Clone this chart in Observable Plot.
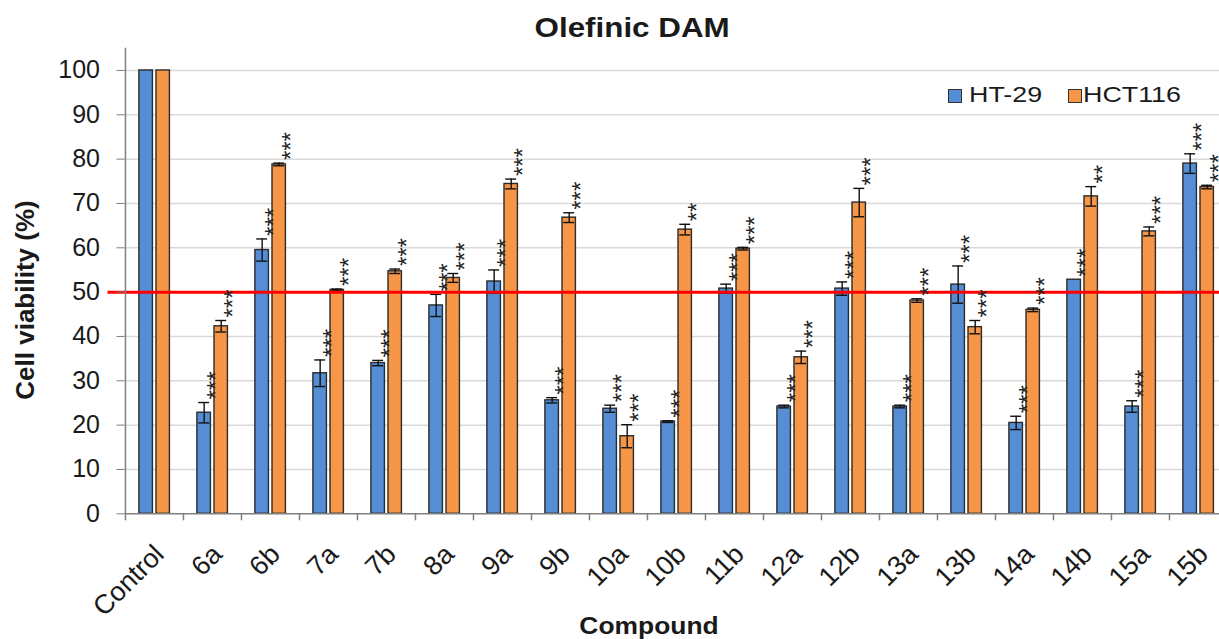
<!DOCTYPE html>
<html>
<head>
<meta charset="utf-8">
<script src="https://cdn.jsdelivr.net/npm/d3@7"></script>
<script src="https://cdn.jsdelivr.net/npm/@observablehq/plot@0.6"></script>
<style>
  html, body { margin: 0; padding: 0; background: #fff; overflow: hidden; }
  #wrap { position: relative; width: 1219px; height: 639px; overflow: hidden;
          font-family: "Liberation Sans", Arial, sans-serif; color: #1a1a1a; }
  #chart { position: absolute; left: 0; top: 0; }
  #chart svg { max-width: none !important; }
  .abs { position: absolute; white-space: nowrap; }
  .title { left: 0; width: 1264px; top: 13.6px; text-align: center; font-weight: bold; font-size: 28px; line-height: 28px; }
  .title span { display: inline-block; transform: scaleX(1.12); }
  .ytitle { left: 25px; top: 300px; font-weight: bold; font-size: 26px; line-height: 26px;
            transform: translate(-50%, -50%) rotate(-90deg); }
  .xtitle { left: 649px; top: 613.7px; font-weight: bold; font-size: 24px; line-height: 24px;
            transform: translateX(-50%) scaleX(1.1); }
  .legend { top: 83.7px; font-size: 22px; line-height: 22px; }
  .legend .sw { position: absolute; width: 12px; height: 12px; border: 1.3px solid #333; top: 5px; }
  .legend .lb { position: absolute; display: inline-block; transform-origin: left center; transform: scaleX(1.22); }
  g[aria-label="stars"] text { letter-spacing: 0.6px; }
</style>
</head>
<body>
<div id="wrap">
  <div id="chart"></div>
  <div class="abs title"><span>Olefinic DAM</span></div>
  <div class="abs ytitle">Cell viability (%)</div>
  <div class="abs xtitle">Compound</div>
  <div id="legend"></div>
</div>
<script>
// ---- data ----
const categories = ["Control","6a","6b","7a","7b","8a","9a","9b","10a","10b","11b","12a","12b","13a","13b","14a","14b","15a","15b"];
const seriesNames = ["HT-29", "HCT116"];
const ht29      = [100, 22.8, 59.5, 31.7, 34.0, 47.0, 52.4, 25.6, 23.7, 20.8, 50.8, 24.2, 50.8, 24.2, 51.7, 20.5, 52.8, 24.2, 79.0];
const ht29Err   = [0,   2.3,  2.5,  3.0,  0.6,  2.5,  2.6,  0.6,  0.8,  0.2,  1.0,  0.3,  1.5,  0.3,  4.2,  1.5,  0,    1.3,  2.2];
const ht29Sig   = ["", "***","***","***","***","***","***","***","***","***","***","***","***","***","***","***","***","***","***"];
const hct116    = [100, 42.3, 78.8, 50.5, 54.7, 53.2, 74.4, 66.8, 17.5, 64.1, 59.8, 35.3, 70.2, 48.1, 42.1, 46.0, 71.6, 63.7, 73.7];
const hct116Err = [0,   1.3,  0.3,  0.2,  0.5,  1.0,  1.1,  1.1,  2.6,  1.2,  0.3,  1.4,  3.2,  0.4,  1.5,  0.4,  2.2,  1.0,  0.4];
const hct116Sig = ["", "***","***","***","***","***","***","***","***","**","***","***","***","***","***","***","**","***","***"];
const yTicks = [0, 10, 20, 30, 40, 50, 60, 70, 80, 90, 100];
const threshold = [50];

// ---- styling / layout ----
const colors = ["#558ed5", "#f79646"];
const W = 1228, H = 639, ML = 124.5, MR = 0, MT = 47.8, MB = 125.7;
const step = (W - ML - MR) / categories.length;
const barPos = [[13.9, 27.5], [31.0, 44.5]];   // left/right offsets inside each category band (px)
const starSize = 24;

const rows = (vals, errs, sigs, s) => categories.map((c, i) => ({cat: c, v: vals[i], e: errs[i], sig: sigs[i], series: s}));
const series = [rows(ht29, ht29Err, ht29Sig, seriesNames[0]), rows(hct116, hct116Err, hct116Sig, seriesNames[1])];

const barMarks = [], errMarks = [], starMarks = [];
series.forEach((data, k) => {
  const [l, r] = barPos[k];
  const c = (l + r) / 2, cap = 5.5;
  const withErr = data.filter(d => d.e > 0);
  barMarks.push(Plot.barY(data, {x: "cat", y: "v", fill: colors[k], stroke: "#2b2b2b", strokeWidth: 1.4,
    insetLeft: l, insetRight: step - r}));
  errMarks.push(
    Plot.ruleX(withErr, {x: "cat", y1: d => d.v - d.e, y2: d => d.v + d.e, dx: c - step / 2, stroke: "#111", strokeWidth: 1.4}),
    Plot.tickY(withErr, {x: "cat", y: d => d.v + d.e, insetLeft: c - cap, insetRight: step - c - cap, stroke: "#111", strokeWidth: 1.4}),
    Plot.tickY(withErr, {x: "cat", y: d => d.v - d.e, insetLeft: c - cap, insetRight: step - c - cap, stroke: "#111", strokeWidth: 1.4})
  );
  starMarks.push(Plot.text(data.filter(d => d.sig), {x: "cat", y: d => d.v + d.e, text: "sig", rotate: -90,
    textAnchor: "start", lineAnchor: "middle", fontSize: starSize, fill: "#222",
    dx: c - step / 2 + 6 + 0.26 * starSize, dy: -3, ariaLabel: "stars"}));
});

const chart = Plot.plot({
  width: W, height: H,
  marginLeft: ML, marginRight: MR, marginTop: MT, marginBottom: MB,
  style: {fontFamily: '"Liberation Sans", Arial, sans-serif', background: "#fff", maxWidth: "none", color: "#1a1a1a"},
  x: {type: "band", domain: categories, paddingInner: 0, paddingOuter: 0},
  y: {domain: [0, 105]},
  marks: [
    Plot.ruleY(yTicks.filter(t => t > 0), {y: d => d, stroke: "#d9d9d9", strokeWidth: 1.5}),
    ...barMarks,
    ...errMarks,
    Plot.ruleY(threshold, {y: d => d, stroke: "#ff0000", strokeWidth: 3, insetLeft: -17}),
    ...starMarks,
    // y axis line (left boundary of first category) and x axis line
    Plot.ruleX(categories.slice(0, 1), {x: d => d, dx: -step / 2, stroke: "#7f7f7f", strokeWidth: 1.5}),
    Plot.ruleY([0], {y: d => d, stroke: "#7f7f7f", strokeWidth: 1.5}),
    // category boundary tick marks
    Plot.ruleX(categories, {x: d => d, dx: -step / 2, y1: 0, y2: 0, insetTop: 7, stroke: "#7f7f7f", strokeWidth: 1.5}),
    Plot.axisY({ticks: yTicks, tickSize: 8, tickPadding: 17, fontSize: 25, label: null, stroke: "#7f7f7f", fill: "#1a1a1a"}),
    Plot.axisX({tickSize: 0, tickRotate: -45, tickPadding: 36, dx: 5, fontSize: 27, label: null, fill: "#1a1a1a"})
  ]
});
document.getElementById("chart").appendChild(chart);

// ---- legend ----
const legendPos = [[947.5, 969], [1067.5, 1083]];
const legend = document.getElementById("legend");
seriesNames.forEach((name, k) => {
  const item = document.createElement("div");
  item.className = "abs legend";
  item.style.left = "0px";
  item.innerHTML = `<div class="sw" style="left:${legendPos[k][0]}px;background:${colors[k]}"></div>` +
                   `<div class="lb" style="left:${legendPos[k][1]}px">${name}</div>`;
  legend.appendChild(item);
});
</script>
</body>
</html>
